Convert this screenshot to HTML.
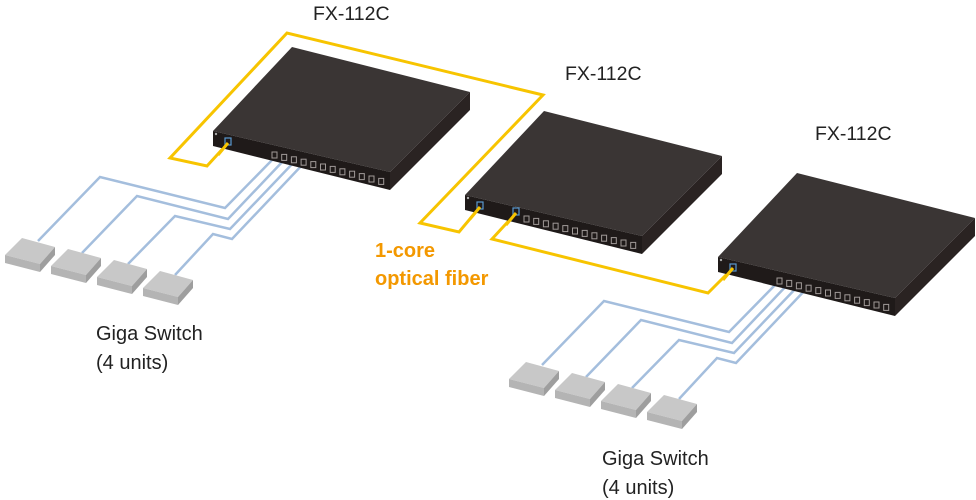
<!DOCTYPE html>
<html><head><meta charset="utf-8"><style>
html,body{margin:0;padding:0;background:#fff;width:976px;height:500px;overflow:hidden}
svg{display:block}
text{font-family:"Liberation Sans",sans-serif}
</style></head><body>
<svg width="976" height="500" viewBox="0 0 976 500" xmlns="http://www.w3.org/2000/svg">
<defs>
<g id="sw">
  <polygon points="213,131 292,47 470,92 390,172" fill="#3a3534"/>
  <polygon points="213,131 390,172 390,190 213,146" fill="#1f1a19"/>
  <polygon points="390,172 470,92 470,110 390,190" fill="#2a2322"/>
  <circle cx="216" cy="134" r="1.2" fill="#aaa"/>
  <g fill="none" stroke="#a09a98" stroke-width="1">
    <rect x="272" y="152" width="5" height="6"/><rect x="281.7" y="154.4" width="5" height="6"/>
    <rect x="291.4" y="156.8" width="5" height="6"/><rect x="301.1" y="159.2" width="5" height="6"/>
    <rect x="310.8" y="161.6" width="5" height="6"/><rect x="320.5" y="164" width="5" height="6"/>
    <rect x="330.2" y="166.4" width="5" height="6"/><rect x="339.9" y="168.8" width="5" height="6"/>
    <rect x="349.6" y="171.2" width="5" height="6"/><rect x="359.3" y="173.6" width="5" height="6"/>
    <rect x="369" y="176" width="5" height="6"/><rect x="378.7" y="178.4" width="5" height="6"/>
  </g>
  <rect x="225" y="138" width="6" height="7" fill="none" stroke="#5a9ad0" stroke-width="1.2"/>
</g>
<g id="box">
  <polygon points="5,255 22,238 55,247 40,264" fill="#c8c8c8"/>
  <polygon points="5,255 40,264 40,272 5,263" fill="#b4b4b4"/>
  <polygon points="40,264 55,247 55,255 40,272" fill="#9e9e9e"/>
</g>
<g id="grp">
  <g fill="none" stroke="#a4bedd" stroke-width="2.5">
    <polyline points="38,241 100,177 225,208 275,157"/>
    <polyline points="82,253 137,196 228,219 285,159"/>
    <polyline points="128,264 175,216 230,229 295,161"/>
    <polyline points="175,275 213,234 232,239 304,163"/>
  </g>
  <use href="#box"/>
  <use href="#box" transform="translate(46,11)"/>
  <use href="#box" transform="translate(92,22)"/>
  <use href="#box" transform="translate(138,33)"/>
</g>
</defs>
<g fill="none" stroke="#f7c400" stroke-width="3">
  <polyline points="228,143 207,166 170,158 287,33 543,95 420,223 459,232 480,207"/>
  <polyline points="516,213 492,239 708,293 733,268"/>
</g>
<use href="#grp"/>
<use href="#grp" transform="translate(504,124)"/>
<use href="#sw"/>
<use href="#sw" transform="translate(252,64)"/>
<use href="#sw" transform="translate(505,126)"/>
<rect x="513" y="208" width="6" height="7" fill="none" stroke="#5a9ad0" stroke-width="1.2"/>
<g fill="none" stroke="#f7c400" stroke-width="3">
  <line x1="228" y1="143" x2="218" y2="155"/>
  <line x1="480" y1="207" x2="470" y2="219"/>
  <line x1="516" y1="213" x2="506" y2="225"/>
  <line x1="733" y1="268" x2="723" y2="280"/>
</g>
<g font-size="19.5" fill="#222">
  <text x="313" y="20">FX-112C</text>
  <text x="565" y="80">FX-112C</text>
  <text x="815" y="140">FX-112C</text>
</g>
<g font-size="20" fill="#222">
  <text x="96" y="340">Giga Switch</text>
  <text x="96" y="369">(4 units)</text>
  <text x="602" y="465">Giga Switch</text>
  <text x="602" y="494">(4 units)</text>
</g>
<g font-size="20" font-weight="bold" fill="#f39800">
  <text x="375" y="257">1-core</text>
  <text x="375" y="285">optical fiber</text>
</g>
</svg>
</body></html>
